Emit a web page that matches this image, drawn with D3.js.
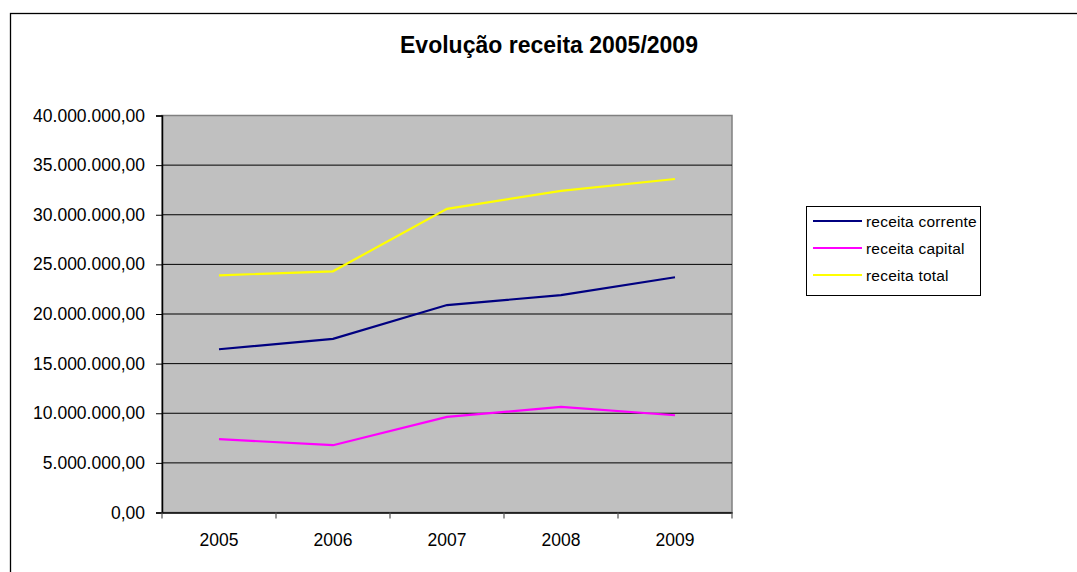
<!DOCTYPE html>
<html>
<head>
<meta charset="utf-8">
<script src="https://cdn.jsdelivr.net/npm/d3@7"></script>
<style>
  html, body { margin: 0; padding: 0; background: #fff; }
  svg { display: block; font-family: Arial, "Liberation Sans", sans-serif; }
</style>
</head>
<body>
<svg id="chart" width="1077" height="572"></svg>
<script>
// Revenue by year (R$)
const years = ["2005", "2006", "2007", "2008", "2009"];
const receitaCorrente = [16450000, 17500000, 20900000, 21900000, 23700000];
const receitaCapital  = [7390000, 6780000, 9630000, 10640000, 9800000];
const receitaTotal    = [23900000, 24300000, 30600000, 32400000, 33600000];
const yTicks = [0, 5000000, 10000000, 15000000, 20000000, 25000000, 30000000, 35000000, 40000000];
const seriesNames = ["receita corrente", "receita capital", "receita total"];
const seriesColors = ["#000080", "#ff00ff", "#ffff00"];

const series = [receitaCorrente, receitaCapital, receitaTotal].map((values, i) => ({
  name: seriesNames[i], color: seriesColors[i], values
}));

const svg = d3.select("#chart");
const plot = { left: 162, right: 732, top: 115.5, bottom: 512.5 };

// Outer chart frame
svg.append("rect")
  .attr("x", 10.5).attr("y", 13.5)
  .attr("width", 1100).attr("height", 600)
  .attr("fill", "#fff").attr("stroke", "#000").attr("stroke-width", 1.3);

// Title
svg.append("text")
  .attr("x", 549).attr("y", 53)
  .attr("text-anchor", "middle")
  .attr("font-size", 23).attr("font-weight", "bold")
  .text("Evolução receita 2005/2009");

const x = d3.scaleBand().domain(years).range([plot.left, plot.right]);
const y = d3.scaleLinear().domain([0, 40000000]).range([plot.bottom, plot.top]);

// Plot area background
svg.append("rect")
  .attr("x", plot.left).attr("y", plot.top)
  .attr("width", plot.right - plot.left).attr("height", plot.bottom - plot.top)
  .attr("fill", "#c0c0c0").attr("stroke", "#808080").attr("stroke-width", 1.5);

// Horizontal gridlines
svg.append("g")
  .selectAll("line")
  .data(yTicks.filter(d => d > 0 && d < 40000000))
  .join("line")
  .attr("x1", plot.left).attr("x2", plot.right)
  .attr("y1", d => y(d)).attr("y2", d => y(d))
  .attr("stroke", "#000").attr("stroke-width", 1);

const fmt = v => {
  const s = d3.format(",.2f")(v);
  return s.replace(/,/g, "#").replace(/\./g, ",").replace(/#/g, ".");
};

// Y axis
const yAxis = svg.append("g")
  .attr("transform", `translate(${plot.left},0)`)
  .call(d3.axisLeft(y).tickValues(yTicks).tickFormat(fmt).tickSize(6).tickPadding(11));
yAxis.select(".domain").attr("stroke", "#000").attr("stroke-width", 1.5);
yAxis.selectAll(".tick line").attr("stroke", "#000");
yAxis.selectAll("text").attr("font-size", 17.5).attr("fill", "#000")
  .attr("font-family", "Arial, 'Liberation Sans', sans-serif");

// X axis with ticks between categories
const xAxis = svg.append("g")
  .attr("transform", `translate(0,${plot.bottom})`)
  .call(d3.axisBottom(x).tickSize(0).tickPadding(21));
xAxis.select(".domain").attr("stroke", "#000").attr("stroke-width", 1.5);
xAxis.selectAll("text").attr("font-size", 17.5).attr("fill", "#000")
  .attr("font-family", "Arial, 'Liberation Sans', sans-serif");
svg.append("g")
  .selectAll("line")
  .data(years.map(d => x(d)).concat([x(years[years.length - 1]) + x.bandwidth()]))
  .join("line")
  .attr("x1", d => d).attr("x2", d => d)
  .attr("y1", plot.bottom).attr("y2", plot.bottom + 6)
  .attr("stroke", "#555").attr("stroke-width", 1.2);

// Series lines
const line = d3.line()
  .x((d, i) => x(years[i]) + x.bandwidth() / 2)
  .y(d => y(d));
svg.append("g")
  .selectAll("path")
  .data(series)
  .join("path")
  .attr("d", d => line(d.values))
  .attr("fill", "none")
  .attr("stroke", d => d.color)
  .attr("stroke-width", 2.2);

// Legend
const legend = svg.append("g");
legend.append("rect")
  .attr("x", 806.5).attr("y", 206.5).attr("width", 174).attr("height", 89)
  .attr("fill", "#fff").attr("stroke", "#000").attr("stroke-width", 1);
const items = legend.selectAll("g.item")
  .data(series)
  .join("g")
  .attr("class", "item")
  .attr("transform", (d, i) => `translate(0,${221 + i * 27})`);
items.append("line")
  .attr("x1", 813).attr("x2", 862)
  .attr("stroke", d => d.color).attr("stroke-width", 2);
items.append("text")
  .attr("x", 866).attr("y", 5.5)
  .attr("font-size", 15.5).attr("letter-spacing", 0.2)
  .text(d => d.name);
</script>
</body>
</html>
